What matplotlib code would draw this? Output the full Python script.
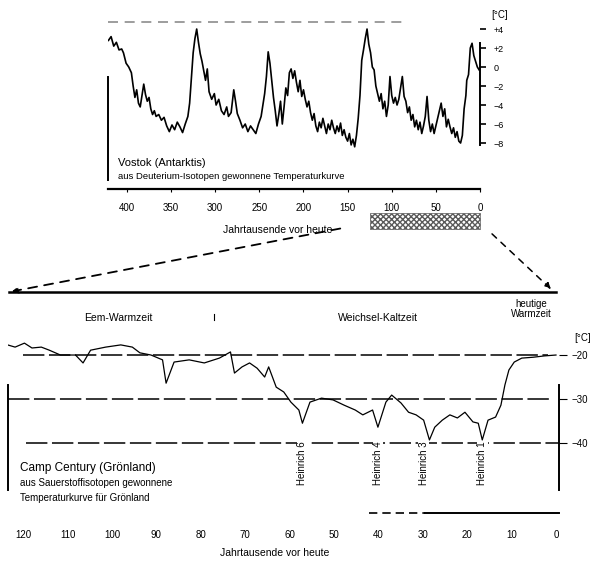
import matplotlib
matplotlib.use('Agg')
import matplotlib.pyplot as plt
from matplotlib.patches import Rectangle, FancyArrowPatch

plt.rcParams['font.family'] = ['Liberation Sans', 'DejaVu Sans']

# ---------------- data ----------------
vostok_age = [421, 418, 415, 412, 409, 406, 404, 401, 398, 395, 393, 391, 389, 387, 385, 383, 381, 379,
              377, 375, 373, 371, 369, 367, 364, 361, 358, 355, 352, 349, 346, 343, 340, 337, 334, 331,
              329, 327, 325, 323, 321, 319, 317, 315, 313, 311, 309, 307, 304, 301, 299, 296, 293, 290,
              287, 285, 282, 279, 277, 275, 272, 269, 266, 263, 260, 257, 254, 251, 248, 246, 244, 242,
              240, 238, 236, 234, 232, 230, 228, 226, 224, 222, 220, 218, 216, 214, 212, 210, 208, 206,
              204, 202, 200, 198, 196, 194, 192, 190, 188, 186, 184, 182, 180, 178, 176, 174, 172, 170,
              168, 166, 164, 162, 160, 158, 156, 154, 152, 150, 148, 146, 144, 142, 140, 138, 136, 134,
              132, 130, 128, 126, 124, 122, 120, 118, 116, 114, 112, 110, 108, 106, 104, 102, 100, 98,
              96, 94, 92, 90, 88, 86, 84, 82, 80, 78, 76, 74, 72, 70, 68, 66, 64, 62, 60, 58, 56, 54,
              52, 50, 48, 46, 44, 42, 40, 38, 36, 34, 32, 30, 28, 26, 24, 22, 20, 18, 16, 15, 13, 11,
              9, 7, 5, 3, 1]
vostok_temp = [2.8, 3.2, 2.2, 2.6, 1.8, 1.9, 1.5, 0.4, 0.0, -0.6, -2.0, -3.2, -2.4, -3.8, -4.2, -3.0, -1.8, -2.9,
               -3.6, -3.2, -4.4, -5.0, -4.6, -5.2, -5.0, -5.6, -5.3, -6.2, -6.8, -6.1, -6.6, -5.8, -6.3, -6.9, -6.0, -5.2,
               -3.8, -1.2, 1.5, 3.0, 4.0, 2.6, 1.4, 0.6, -0.4, -1.4, -0.2, -2.6, -3.4, -2.8, -4.0, -3.4, -4.6, -5.0,
               -4.2, -5.2, -4.8, -2.4, -3.6, -4.9, -5.6, -6.4, -6.0, -6.8, -6.2, -6.6, -7.0, -6.0, -5.2, -4.0, -2.8, -1.0,
               1.6, 0.4, -1.4, -3.2, -4.6, -6.2, -5.0, -3.6, -6.0, -4.2, -2.2, -3.0, -0.6, -0.2, -1.2, -0.4, -1.6, -2.6,
               -1.4, -3.1, -2.4, -3.4, -4.2, -3.6, -4.8, -5.6, -4.9, -6.2, -6.8, -5.8, -6.4, -5.4, -6.2, -7.0, -6.0, -6.6,
               -5.6, -6.4, -7.0, -6.2, -6.8, -5.9, -7.2, -6.6, -7.4, -7.8, -7.0, -8.2, -7.6, -8.4, -7.2, -5.4, -3.0, 0.7,
               1.8, 3.0, 4.0, 2.4, 1.5, 0.0, -0.3, -2.0, -2.8, -3.6, -2.8, -4.4, -3.6, -5.2, -4.0, -1.0, -3.0, -3.8,
               -3.2, -4.0, -3.4, -2.2, -1.0, -3.1, -3.6, -4.8, -4.2, -5.6, -5.0, -6.3, -5.6, -6.6, -5.8, -7.0, -6.2, -5.2, -3.1, -5.6, -6.8, -6.0,
               -7.0, -6.2, -5.4, -4.6, -3.8, -5.2, -4.4, -6.3, -5.5, -6.3, -7.0, -6.4, -7.4, -6.8, -7.8, -8.0, -7.2, -4.4, -3.0, -1.4, -0.8, 2.0,
               2.5, 1.2, 0.6, 0.0, -0.3]

camp_age = [123.5, 121.8, 119.7, 118.0, 115.9, 114.1, 111.6, 108.2, 106.5, 104.8, 101.4, 98.0, 95.4, 93.7,
            91.2, 88.6, 87.8, 86.0, 82.6, 79.2, 75.8, 73.3, 72.4, 70.7, 69.0, 67.3, 65.6, 64.7, 63.0, 61.3,
            59.7, 57.9, 57.1, 55.4, 52.8, 50.2, 47.7, 45.2, 43.5, 41.3, 40.1, 38.3, 37.0, 34.9, 33.2, 31.5,
            29.8, 28.5, 27.3, 25.6, 23.9, 22.2, 20.5, 18.7, 17.5, 16.6, 15.3, 13.6, 12.4, 11.5, 10.6, 9.4,
            7.7, 5.1, 2.6, 0.0]
camp_temp = [-17.7, -18.2, -17.3, -18.4, -18.2, -18.9, -20.0, -20.0, -21.8, -18.9, -18.2, -17.7, -18.2, -19.5,
             -20.0, -21.1, -26.4, -21.6, -21.1, -21.8, -20.7, -19.3, -24.1, -22.7, -21.8, -23.0, -25.0, -22.7, -27.3, -28.4,
             -30.7, -32.5, -35.5, -30.7, -29.8, -30.2, -31.4, -32.5, -33.6, -32.5, -36.4, -30.7, -29.1, -30.9, -33.0, -33.6,
             -34.8, -39.3, -36.4, -34.8, -33.6, -34.3, -33.0, -35.2, -35.5, -39.3, -34.8, -34.1, -31.4, -26.8, -23.4, -21.6,
             -20.7, -20.5, -20.2, -20.0]

top_xticks = [400, 350, 300, 250, 200, 150, 100, 50, 0]
top_yticks = [4, 2, 0, -2, -4, -6, -8]
top_ylabels = ['+4', '+2', '0', '−2', '−4', '−6', '−8']
bot_xticks = [120, 110, 100, 90, 80, 70, 60, 50, 40, 30, 20, 10, 0]
bot_yticks = [-20, -30, -40]
bot_ylabels = ['−20', '−30', '−40']
heinrich_age = [57.1, 40.1, 29.8, 16.6]
heinrich_names = ['Heinrich 6', 'Heinrich 4', 'Heinrich 3', 'Heinrich 1']

# ---------------- figure ----------------
W, H = 593, 562
fig = plt.figure(figsize=(W / 100, H / 100), dpi=100)


def box(x0, y0, x1, y1):
    return [x0 / W, 1 - y1 / H, (x1 - x0) / W, (y1 - y0) / H]


def txt(x, y, s, **kw):
    kw.setdefault('ha', 'center')
    kw.setdefault('va', 'center')
    fig.text(x / W, 1 - y / H, s, **kw)


# ---- top panel: Vostok ----
ax1 = fig.add_axes(box(108, 20, 480, 189))
ax1.patch.set_visible(False)
ax1.set_xlim(421.5, 0)
ax1.set_ylim(-12.84, 4.95)
ax1.plot(vostok_age, vostok_temp, color='black', lw=1.2)
ax1.axhline(4.7, xmin=0, xmax=(407 - 108) / 372, color='0.55', ls=(0, (6, 4)), lw=1.2)
ax1.spines['top'].set_visible(False)
ax1.spines['left'].set_bounds(-11.9, -1.05)
ax1.spines['right'].set_bounds(-8.2, 2.53)
for s in ['left', 'right']:
    ax1.spines[s].set_linewidth(1.4)
ax1.spines['bottom'].set_linewidth(1.6)
ax1.set_xticks(top_xticks)
ax1.set_xticklabels([str(v) for v in top_xticks])
ax1.tick_params(axis='x', length=2, pad=8, labelsize=7)
ax1.yaxis.tick_right()
ax1.set_yticks(top_yticks)
ax1.set_yticklabels(top_ylabels)
ax1.tick_params(axis='y', length=4, pad=6, labelsize=6.5, width=1.2)

txt(500, 15, '[°C]', fontsize=7)
txt(118, 163, 'Vostok (Antarktis)', ha='left', fontsize=8)
txt(118, 177, 'aus Deuterium-Isotopen gewonnene Temperaturkurve', ha='left', fontsize=6.8)
txt(278, 230, 'Jahrtausende vor heute', fontsize=7.5)

# ---- bottom panel: Camp Century ----
ax2 = fig.add_axes(box(8, 335, 559, 513))
ax2.patch.set_visible(False)
ax2.set_xlim(123.4, -0.68)
ax2.set_ylim(-55.9, -15.45)
ax2.plot(camp_age, camp_temp, color='black', lw=0.9)
xmin_x = lambda px: (px - 8) / 551
ax2.axhline(-20, xmin=xmin_x(23), xmax=xmin_x(548), color='black', lw=1.1, ls=(0, (14, 3)))
ax2.axhline(-30, xmin=xmin_x(8), xmax=xmin_x(552), color='black', lw=1.1, ls=(0, (14, 3)))
ax2.axhline(-40, xmin=xmin_x(26), xmax=1.0, color='black', lw=1.1, ls=(0, (14, 3)))
for s in ['top', 'bottom']:
    ax2.spines[s].set_visible(False)
ax2.spines['left'].set_bounds(-50.7, -26.8)
ax2.spines['right'].set_bounds(-50.7, -26.8)
for s in ['left', 'right']:
    ax2.spines[s].set_linewidth(1.4)
ax2.plot([42, 29.5], [-55.9, -55.9], color='black', lw=1.2, ls=(0, (5, 3)), clip_on=False)
ax2.plot([29.5, -0.68], [-55.9, -55.9], color='black', lw=1.4, clip_on=False)
ax2.set_xticks(bot_xticks)
ax2.set_xticklabels([str(v) for v in bot_xticks])
ax2.tick_params(axis='x', length=0, pad=12, labelsize=7)
ax2.yaxis.tick_right()
ax2.set_yticks(bot_yticks)
ax2.set_yticklabels(bot_ylabels)
ax2.tick_params(axis='y', length=6, pad=3, labelsize=7, width=0.8)
for a, name in zip(heinrich_age, heinrich_names):
    ax2.text(a, -39.6, name, rotation=90, ha='center', va='top', fontsize=7,
             bbox=dict(facecolor='white', edgecolor='none', pad=0.3))

txt(583, 338, '[°C]', fontsize=7)
txt(20, 468, 'Camp Century (Grönland)', ha='left', fontsize=8.5)
txt(20, 483, 'aus Sauerstoffisotopen gewonnene', ha='left', fontsize=7)
txt(20, 498, 'Temperaturkurve für Grönland', ha='left', fontsize=7)
txt(275, 553, 'Jahrtausende vor heute', fontsize=7.5)

txt(118, 318, 'Eem-Warmzeit', fontsize=7.5)
txt(378, 318, 'Weichsel-Kaltzeit', fontsize=7.5)
txt(531, 309, 'heutige\nWarmzeit', fontsize=7, linespacing=1.0)

# ---- overlay for connectors ----
ov = fig.add_axes([0, 0, 1, 1])
ov.set_xlim(0, W)
ov.set_ylim(H, 0)
ov.axis('off')
ov.patch.set_visible(False)
ov.add_patch(Rectangle((370, 213), 110, 16, facecolor='white', edgecolor='0.35',
                       hatch='xxxxxx', lw=0.5))
ov.plot([9, 556], [292, 292], color='black', lw=1.8)
ov.plot([214, 214], [314, 320], color='black', lw=0.8)
ov.add_patch(FancyArrowPatch((343, 228), (9, 292), arrowstyle='-|>', mutation_scale=9,
                             ls=(0, (5, 4)), lw=1.3, color='black'))
ov.add_patch(FancyArrowPatch((490, 232), (553, 291), arrowstyle='-|>', mutation_scale=9,
                             ls=(0, (4, 4)), lw=1.1, color='black'))

fig.savefig('out.png', dpi=100)
